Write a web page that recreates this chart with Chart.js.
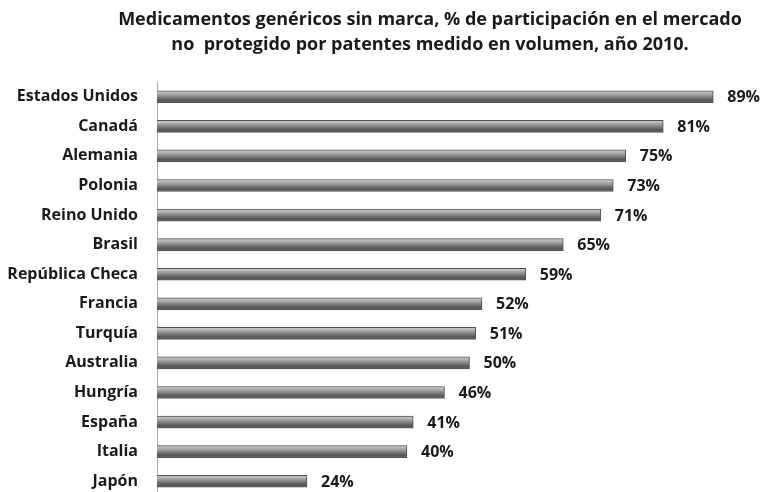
<!DOCTYPE html>
<html>
<head>
<meta charset="utf-8">
<script src="https://cdn.jsdelivr.net/npm/chart.js@4"></script>
<style>
  html, body { margin: 0; padding: 0; background: #fff; overflow: hidden; }
  canvas { display: block; }
</style>
</head>
<body>
<canvas id="chart" width="762" height="496"></canvas>
<script>
var countries = ['Estados Unidos', 'Canadá', 'Alemania', 'Polonia', 'Reino Unido', 'Brasil',
  'República Checa', 'Francia', 'Turquía', 'Australia', 'Hungría', 'España', 'Italia', 'Japón'];
var shares = [89, 81, 75, 73, 71, 65, 59, 52, 51, 50, 46, 41, 40, 24];
var titleLines = ['Medicamentos genéricos sin marca, % de participación en el mercado',
  'no  protegido por patentes medido en volumen, año 2010.'];

var fontName = '"Open Sans", sans-serif';

// cylinder-like gray shading per bar
function barFill(context) {
  var chart = context.chart;
  var y = chart.scales.y;
  if (!y) return '#888';
  var c = y.getPixelForValue(context.dataIndex);
  if (!isFinite(c)) return '#888';
  var g = chart.ctx.createLinearGradient(0, c - 6, 0, c + 6);
  g.addColorStop(0, '#d0d0d0');
  g.addColorStop(0.18, '#b8b8b8');
  g.addColorStop(0.45, '#8c8c8c');
  g.addColorStop(0.8, '#555555');
  g.addColorStop(1, '#6a6a6a');
  return g;
}

var extras = {
  id: 'extras',
  afterDraw: function (chart) {
    var ctx = chart.ctx;
    ctx.save();
    ctx.fillStyle = '#1a1a1a';
    ctx.textAlign = 'center';
    ctx.textBaseline = 'middle';
    ctx.font = 'bold 18px ' + fontName;
    ctx.fillText(titleLines[0], 430, 20);
    ctx.fillText(titleLines[1], 430, 45);

    var meta = chart.getDatasetMeta(0);
    ctx.font = 'bold 16px ' + fontName;
    ctx.textAlign = 'left';
    meta.data.forEach(function (bar, i) {
      ctx.fillText(shares[i] + '%', bar.x + 14, bar.y + 1);
    });
    ctx.restore();
  }
};

new Chart(document.getElementById('chart'), {
  type: 'bar',
  data: {
    labels: countries,
    datasets: [{
      data: shares,
      backgroundColor: barFill,
      borderColor: '#505050',
      borderWidth: 1,
      borderSkipped: 'start',
      barThickness: 12
    }]
  },
  options: {
    indexAxis: 'y',
    responsive: false,
    maintainAspectRatio: false,
    animation: false,
    layout: { padding: { top: 82, right: 5, bottom: 0, left: 0 } },
    plugins: { legend: { display: false }, tooltip: { enabled: false } },
    scales: {
      x: { display: false, min: 0, max: 96 },
      y: {
        grid: { display: false, drawTicks: false },
        border: { display: true, color: '#a8a8a8', width: 1 },
        ticks: { color: '#1a1a1a', padding: 19, font: { family: fontName, size: 16, weight: 'bold' } },
        afterFit: function (scale) {
          scale.width = 157;
          // label padding would otherwise shrink the plot at the bottom
          scale.paddingTop = 0;
          scale.paddingBottom = 0;
        }
      }
    }
  },
  plugins: [extras]
});
</script>
</body>
</html>
